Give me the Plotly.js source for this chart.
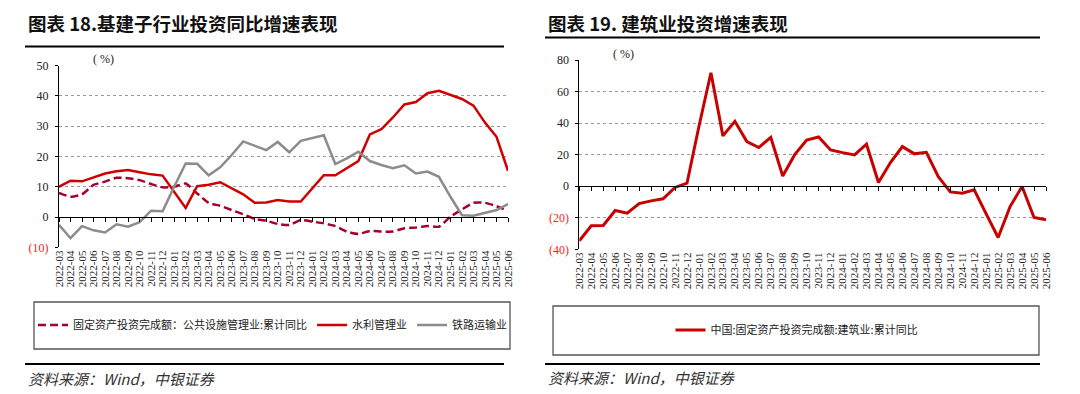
<!DOCTYPE html>
<html><head><meta charset="utf-8">
<script src="https://cdn.plot.ly/plotly-3.0.1.min.js"></script>
<style>html,body{margin:0;padding:0;background:#fff}#c{width:1080px;height:394px}</style>
</head><body><div id="c"></div>
<script>
const months = ["2022-03","2022-04","2022-05","2022-06","2022-07","2022-08","2022-09","2022-10","2022-11","2022-12",
"2023-01","2023-02","2023-03","2023-04","2023-05","2023-06","2023-07","2023-08","2023-09","2023-10","2023-11","2023-12",
"2024-01","2024-02","2024-03","2024-04","2024-05","2024-06","2024-07","2024-08","2024-09","2024-10","2024-11","2024-12",
"2025-01","2025-02","2025-03","2025-04","2025-05","2025-06"];

const publicFacilities = [8.0,6.7,7.5,10.6,11.7,13.0,12.8,12.2,10.9,9.8,10.0,11.1,7.8,4.7,3.7,2.3,0.9,-0.6,-1.2,-2.3,
-2.6,-1.0,-1.5,-2.1,-3.0,-4.8,-5.6,-4.6,-4.8,-4.8,-3.7,-3.5,-3.0,-3.2,0.1,2.5,4.7,4.7,3.6,2.0];
const waterConservancy = [10.0,12.0,11.8,13.0,14.4,15.1,15.5,14.8,14.1,13.7,8.5,3.0,10.2,10.7,11.5,9.5,7.5,4.7,4.8,5.6,
5.1,5.1,9.5,13.8,13.8,16.1,18.5,27.3,29.0,32.9,37.2,38.0,40.9,41.7,40.3,39.0,36.8,31.2,26.5,15.3];
const railway = [-2.6,-7.0,-3.0,-4.4,-5.1,-2.4,-3.2,-1.7,2.1,1.9,10.0,17.7,17.6,13.8,16.4,20.5,25.0,23.5,22.1,24.8,
21.4,25.2,26.0,27.0,17.5,19.4,21.6,18.5,17.2,16.1,17.1,14.4,15.0,13.3,6.7,0.6,0.4,1.4,2.3,4.3];
const construction = [-34.6,-25.1,-24.9,-15.4,-17.1,-11.0,-9.3,-8.0,-0.8,1.9,38.0,71.9,31.9,41.1,28.3,24.5,31.0,6.5,20.0,29.3,
31.2,23.0,21.3,19.8,26.6,2.3,15.0,25.1,20.5,21.5,6.1,-3.6,-4.4,-2.3,-17.5,-32.5,-12.9,-0.2,-19.8,-21.3];

const leftTickVals = [-10,0,10,20,30,40,50];
const leftTickText = ['<span style="color:#ff2020">(10)</span>','0','10','20','30','40','50'];
const rightTickVals = [-40,-20,0,20,40,60,80];
const rightTickText = ['<span style="color:#ff2020">(40)</span>','<span style="color:#ff2020">(20)</span>','0','20','40','60','80'];

const W = 1080, H = 394;
const px = v => v / W;
const py = v => 1 - v / H;

const serif = 'Liberation Serif, Times New Roman, serif';
const cjk = 'Noto Sans CJK SC, sans-serif';

// domains
const lx = [px(59), px(508)], ly = [py(247.3), py(65.7)];
const rx = [px(579.3), px(1046)], ry = [py(249.3), py(60)];
const lZero = ly[0] + (ly[1]-ly[0]) * (10/60);
const rZero = ry[0] + (ry[1]-ry[0]) * (40/120);

const traces = [
  {x: months, y: publicFacilities, type:'scatter', mode:'lines', name:'固定资产投资完成额：公共设施管理业:累计同比',
   line:{color:'#A5002A', width:2.5, dash:'8px,4px', shape:'spline', smoothing:0.5}, xaxis:'x', yaxis:'y', legend:'legend'},
  {x: months, y: waterConservancy, type:'scatter', mode:'lines', name:'水利管理业',
   line:{color:'#D00000', width:2.5}, xaxis:'x', yaxis:'y', legend:'legend'},
  {x: months, y: railway, type:'scatter', mode:'lines', name:'铁路运输业',
   line:{color:'#8C8C8C', width:2.5}, xaxis:'x', yaxis:'y', legend:'legend'},
  {x: months, y: months.map(()=>null), type:'scatter', mode:'lines', showlegend:false, hoverinfo:'skip', xaxis:'x2', yaxis:'y'},
  {x: months, y: construction, type:'scatter', mode:'lines', name:'中国:固定资产投资完成额:建筑业:累计同比',
   line:{color:'#C80000', width:3}, xaxis:'x3', yaxis:'y3', legend:'legend2'},
  {x: months, y: months.map(()=>null), type:'scatter', mode:'lines', showlegend:false, hoverinfo:'skip', xaxis:'x4', yaxis:'y3'}
];

const xBase = {type:'category', range:[0,39], showgrid:false, zeroline:false, showline:false, ticks:'',
  tickangle:-90, tickfont:{family:serif, size:11, color:'#222'}, tickmode:'array', tickvals:months, fixedrange:true};
const zeroAxis = {type:'category', range:[0,39], showgrid:false, zeroline:false, showline:true, linecolor:'#000', linewidth:1,
  ticks:'outside', ticklen:4, tickcolor:'#000', tickwidth:1, showticklabels:false, tickmode:'array', tickvals:months, anchor:'free'};
const yBase = {showgrid:true, gridcolor:'#9a9a9a', griddash:'dot', gridwidth:1, zeroline:false, showline:true,
  linecolor:'#000', linewidth:1, ticks:'outside', ticklen:3, tickcolor:'#000', tickmode:'array',
  tickfont:{family:serif, size:12, color:'#222'}, ticklabelstandoff:4};

const layout = {
  width:W, height:H, margin:{l:0,r:0,t:0,b:0}, paper_bgcolor:'#fff', plot_bgcolor:'rgba(0,0,0,0)', showlegend:true,
  xaxis: Object.assign({}, xBase, {domain:lx, anchor:'y'}),
  xaxis2: Object.assign({}, zeroAxis, {domain:lx, overlaying:'x', position:lZero}),
  yaxis: Object.assign({}, yBase, {domain:ly, range:[-10,50], tickvals:leftTickVals, ticktext:leftTickText, anchor:'x'}),
  xaxis3: Object.assign({}, xBase, {domain:rx, anchor:'y3'}),
  xaxis4: Object.assign({}, zeroAxis, {domain:rx, overlaying:'x3', position:rZero}),
  yaxis3: Object.assign({}, yBase, {domain:ry, range:[-40,80], tickvals:rightTickVals, ticktext:rightTickText, anchor:'x3'}),
  legend: {orientation:'h', x:px(273), y:py(325), xanchor:'center', yanchor:'middle', bgcolor:'rgba(0,0,0,0)',
    font:{family:cjk, size:11, color:'#222'}, itemwidth:30, tracegroupgap:0},
  legend2: {orientation:'h', x:px(797), y:py(330), xanchor:'center', yanchor:'middle', bgcolor:'rgba(0,0,0,0)',
    font:{family:cjk, size:11, color:'#222'}, itemwidth:30},
  shapes: [
    {type:'line', xref:'paper', yref:'paper', x0:px(25), x1:px(504), y0:py(46.5), y1:py(46.5), line:{color:'#000', width:2}},
    {type:'line', xref:'paper', yref:'paper', x0:px(545), x1:px(1040), y0:py(37.5), y1:py(37.5), line:{color:'#000', width:2}},
    {type:'rect', xref:'paper', yref:'paper', x0:px(34), x1:px(510), y0:py(349), y1:py(302), line:{color:'#555', width:1.3}},
    {type:'rect', xref:'paper', yref:'paper', x0:px(553), x1:px(1039), y0:py(355), y1:py(306), line:{color:'#555', width:1.3}},
    {type:'line', xref:'paper', yref:'paper', x0:px(25), x1:px(504), y0:py(364), y1:py(364), line:{color:'#000', width:2}},
    {type:'line', xref:'paper', yref:'paper', x0:px(545), x1:px(1040), y0:py(364), y1:py(364), line:{color:'#000', width:2}}
  ],
  annotations: [
    {text:'<b>图表 18.基建子行业投资同比增速表现</b>', xref:'paper', yref:'paper', x:px(26), y:py(23), xanchor:'left', yanchor:'middle',
     showarrow:false, font:{family:cjk, size:18.5, color:'#111'}},
    {text:'<b>图表 19. 建筑业投资增速表现</b>', xref:'paper', yref:'paper', x:px(546), y:py(23), xanchor:'left', yanchor:'middle',
     showarrow:false, font:{family:cjk, size:18.5, color:'#111'}},
    {text:'( %)', xref:'paper', yref:'paper', x:px(103), y:py(59), xanchor:'center', yanchor:'middle', showarrow:false,
     font:{family:serif, size:12, color:'#222'}},
    {text:'( %)', xref:'paper', yref:'paper', x:px(624), y:py(54), xanchor:'center', yanchor:'middle', showarrow:false,
     font:{family:serif, size:12, color:'#222'}},
    {text:'<i>资料来源：Wind，中银证券</i>', xref:'paper', yref:'paper', x:px(26), y:py(378), xanchor:'left', yanchor:'middle',
     showarrow:false, font:{family:cjk, size:15, color:'#333'}},
    {text:'<i>资料来源：Wind，中银证券</i>', xref:'paper', yref:'paper', x:px(546), y:py(377), xanchor:'left', yanchor:'middle',
     showarrow:false, font:{family:cjk, size:15, color:'#333'}}
  ]
};

Plotly.newPlot('c', traces, layout, {staticPlot:true, displayModeBar:false});
</script>
</body></html>
